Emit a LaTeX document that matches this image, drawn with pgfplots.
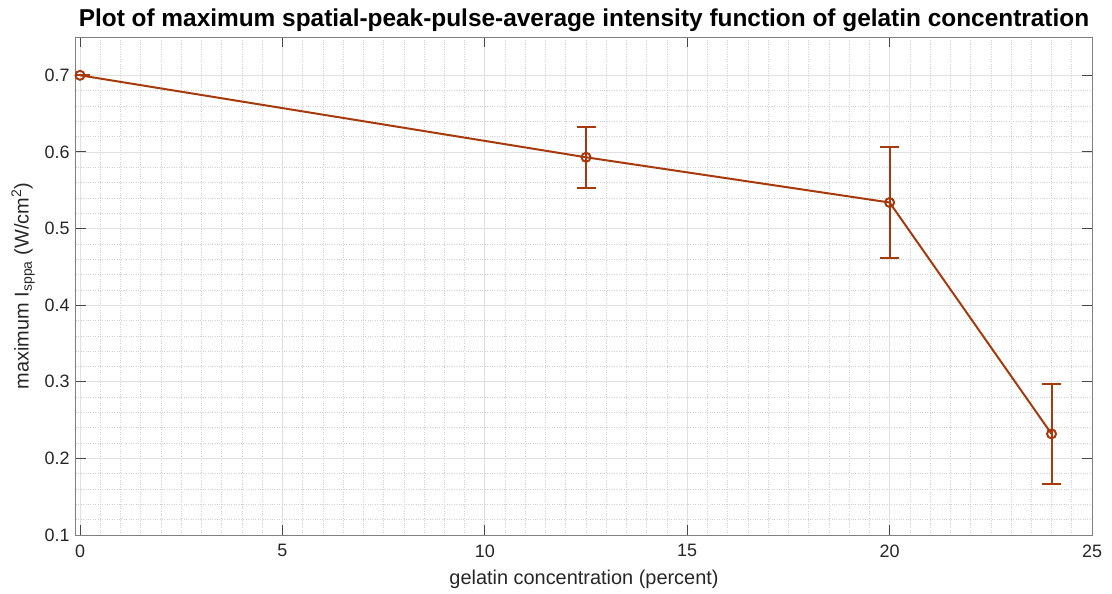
\documentclass[border=0pt]{standalone}
\usepackage{pgfplots}
\pgfplotsset{compat=1.18}
\usepackage{fontspec}
\setmainfont{Liberation Sans}
\definecolor{dataC}{RGB}{166,58,12}
\definecolor{txtC}{RGB}{38,38,38}
\definecolor{axC}{RGB}{128,128,128}
\begin{document}
\begin{tikzpicture}
\useasboundingbox (-76bp,-59bp) rectangle (1036bp,535bp);
\begin{axis}[
  at={(0,0)}, anchor=south west,
  scale only axis,
  width=1016bp, height=498bp,
  xmin=-0.1, xmax=25, ymin=0.1, ymax=0.75,
  xtick={0,5,10,15,20,25},
  ytick={0.1,0.2,0.3,0.4,0.5,0.6,0.7},
  minor x tick num=9,
  minor y tick num=4,
  grid=both,
  major grid style={draw=black!12, line width=0.7bp},
  minor grid style={draw=black!18, dotted, line width=0.6bp},
  axis line style={draw=axC, line width=1bp},
  tick style={draw=txtC!85, line width=1bp},
  minor tick length=0pt,
  major tick length=10bp,
  tick align=inside,
  xtick pos=both, ytick pos=both,
  /pgf/number format/assume math mode=true,
  yticklabel style={/pgf/number format/fixed, /pgf/number format/precision=1, /pgf/number format/fixed zerofill, font=\fontsize{18}{21}\selectfont, text=txtC, xshift=-3bp},
  xticklabel style={font=\fontsize{18}{21}\selectfont, text=txtC, yshift=-6bp},
  title={\bfseries Plot of maximum spatial-peak-pulse-average intensity function of gelatin concentration},
  title style={font=\fontsize{24.5}{28}\selectfont, yshift=-4bp},
  xlabel={gelatin concentration (percent)},
  ylabel={maximum I\textsubscript{sppa} (W/cm\textsuperscript{2})},
  label style={font=\fontsize{20}{24}\selectfont, text=txtC},
  xlabel style={yshift=-6bp},
  ylabel style={yshift=3bp},
]
\addplot[color=dataC, line width=2bp, mark=o, mark size=4.5bp,
  mark options={line width=2bp},
  error bars/.cd, y dir=both, y explicit,
  error bar style={line width=2bp, color=dataC},
  error mark options={rotate=90, mark size=9.5bp, line width=2bp, color=dataC}]
  coordinates {
  (0,0.700) +- (0,0)
  (12.5,0.593) +- (0,0.040)
  (20,0.534) +- (0,0.073)
  (24,0.232) +- (0,0.065)
  };
\end{axis}
\end{tikzpicture}
\end{document}
